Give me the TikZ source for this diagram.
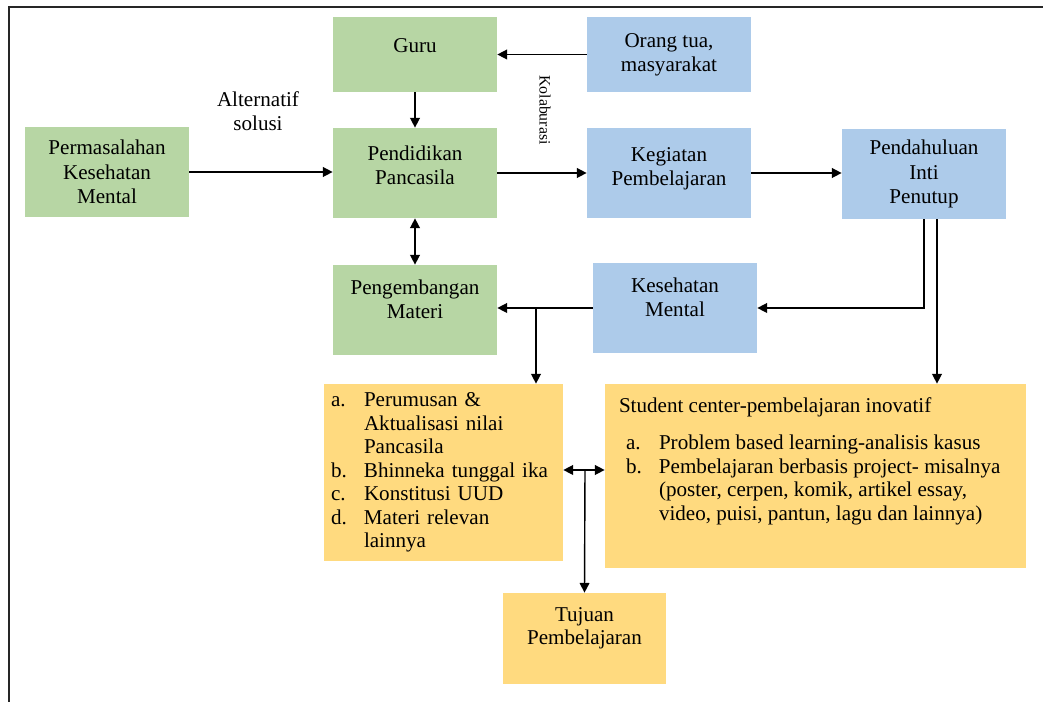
\documentclass[tikz,border=0pt]{standalone}
\usepackage{fontspec}
\setmainfont{Liberation Serif}
\usetikzlibrary{arrows.meta}
\definecolor{boxgreen}{RGB}{183,214,164}
\definecolor{boxblue}{RGB}{173,203,234}
\definecolor{boxyellow}{RGB}{255,218,127}

\begin{document}
\begin{tikzpicture}[
	greenbox/.style={rectangle,fill=boxgreen,minimum width=3.28cm,minimum height=1.8cm,align=center,font=\fontsize{12}{13.8}\selectfont},
	bluebox/.style={greenbox,fill=boxblue},
	yellowbox/.style={rectangle,fill=boxyellow,font=\fontsize{12}{13.4}\selectfont},
	raised/.style={text depth=#1},
	arrow/.style={line width=0.8pt,-{Triangle[length=5.5pt,width=5.5pt]}},
	dblarrow/.style={line width=0.8pt,{Triangle[length=5.5pt,width=5.5pt]}-{Triangle[length=5.5pt,width=5.5pt]}}]
	
	\useasboundingbox (0cm,0cm) rectangle (20.86cm,-14.04cm);
	
	\draw[line width=1.2pt,black!85] (20.86cm,-0.14cm) -- (0.18cm,-0.14cm) -- (0.18cm,-14.04cm);
	
	\node(guru) [greenbox,minimum height=1.5cm,raised=0.35cm] at (8.3cm,-1.09cm) {Guru};
	
	\node(orangtua) [bluebox,minimum height=1.5cm] at (13.38cm,-1.09cm) {Orang tua,\\masyarakat};
	
	\node(permasalahan) [greenbox] at (2.14cm,-3.44cm) {Permasalahan\\Kesehatan\\Mental};
	
	\node(pendidikan) [greenbox,raised=0.3cm] at (8.3cm,-3.46cm) {Pendidikan\\Pancasila};
	
	\node(kegiatan) [bluebox,raised=0.27cm] at (13.38cm,-3.46cm) {Kegiatan\\Pembelajaran};
	
	\node(pendahuluan) [bluebox] at (18.48cm,-3.48cm) {Pendahuluan\\Inti\\Penutup};
	
	\node(pengembangan) [greenbox,raised=0.42cm] at (8.3cm,-6.2cm) {Pengembangan\\Materi};
	
	\node(kesehatan) [bluebox,raised=0.42cm] at (13.5cm,-6.16cm) {Kesehatan\\Mental};
	
	\node(materi) [yellowbox,text width=4.5cm,inner xsep=0.14cm,inner ysep=0.1cm,minimum height=3.54cm,align=left] at (8.87cm,-9.45cm) {%
		\begin{tabular}{@{}p{0.66cm}@{}l@{}}
			a. & Perumusan \& \\
			& Aktualisasi nilai \\
			& Pancasila \\
			b. & Bhinneka tunggal ika \\
			c. & Konstitusi UUD \\
			d. & Materi relevan \\
			& lainnya
		\end{tabular}};
	
	\node(student) [yellowbox,inner xsep=0.28cm,inner ysep=0.28cm] at (16.31cm,-9.52cm) {%
		\parbox[c][3.12cm][t]{7.86cm}{Student center-pembelajaran inovatif\par\vspace{0.28cm}%
		\hspace*{0.14cm}\begin{tabular}{@{}p{0.66cm}@{}l@{}}
			a. & Problem based learning-analisis kasus \\
			b. & Pembelajaran berbasis project- misalnya \\
			& (poster, cerpen, komik, artikel essay, \\
			& video, puisi, pantun, lagu dan lainnya)
		\end{tabular}}};
	
	\node(tujuan) [yellowbox,minimum width=3.26cm,minimum height=1.82cm,align=center,raised=0.5cm] at (11.69cm,-12.77cm) {Tujuan\\Pembelajaran};
	
	\node(alternatif) [align=center,font=\fontsize{12}{13.8}\selectfont] at (5.16cm,-2.22cm) {Alternatif\\solusi};
	
	\node(kolaburasi) [rotate=-90,font=\fontsize{9}{11}\selectfont] at (10.9cm,-2.2cm) {Kolaburasi};
	
	\coordinate (branchmateri) at (10.72cm,-6.16cm);
	
	\coordinate (junction) at (11.7cm,-9.4cm);
	
	\draw[arrow] (orangtua.west) -- (guru.east);
	
	\draw[arrow] (guru.south) -- (pendidikan.north);
	
	\draw[arrow] (permasalahan.east) -- (permasalahan.east -| pendidikan.west);
	
	\draw[arrow] (pendidikan.east) -- (kegiatan.west);
	
	\draw[arrow] (kegiatan.east) -- (kegiatan.east -| pendahuluan.west);
	
	\draw[dblarrow] (pendidikan.south) -- (pengembangan.north);
	
	\draw[arrow] (pendahuluan.south) |- (kesehatan.east);
	
	\draw[arrow] ([xshift=0.26cm]pendahuluan.south) -- ([xshift=0.26cm]pendahuluan.south |- student.north);
	
	\draw[arrow] (kesehatan.west) -- (kesehatan.west -| pengembangan.east);
	
	\draw[arrow] (branchmateri) -- (branchmateri |- materi.north);
	
	\draw[dblarrow] (junction -| materi.east) -- (junction -| student.west);
	
	\draw[arrow] (junction) -- (tujuan.north);
	
\end{tikzpicture}
\end{document}
